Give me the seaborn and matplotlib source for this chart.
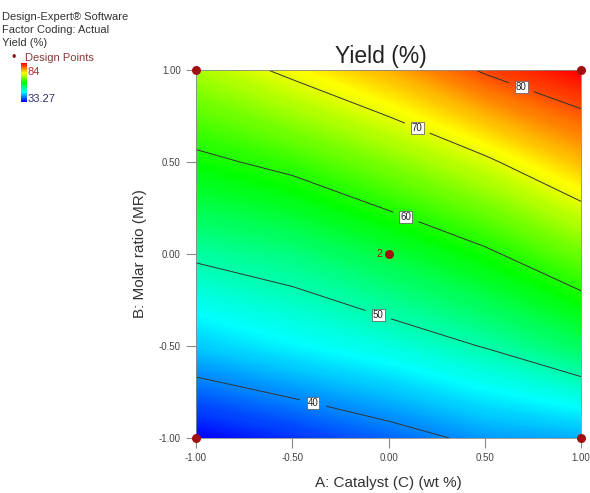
import numpy as np
import matplotlib
matplotlib.use("Agg")
import matplotlib.pyplot as plt
import seaborn as sns
from matplotlib.colors import LinearSegmentedColormap, Normalize

# coded factor levels
catalyst = [-1.0, -0.5, 0.0, 0.5, 1.0]      # A: Catalyst (C) (wt %)
molar_ratio = [-1.0, -0.5, 0.0, 0.5, 1.0]   # B: Molar ratio (MR)

# predicted yield (%), rows = molar ratio
yield_grid = [
    [33.3, 35.7, 38.3, 41.0, 42.0],
    [43.4, 45.6, 47.6, 50.2, 54.0],
    [50.7, 52.4, 55.5, 59.2, 64.0],
    [58.9, 61.3, 65.0, 69.2, 74.5],
    [67.0, 71.0, 75.1, 80.5, 84.0],
]
contour_levels = [40, 50, 60, 70, 80]
yield_min, yield_max = 33.27, 84

# design points (corners + centre point, replicated)
design_a = [-1, 1, -1, 1, 0]
design_b = [-1, -1, 1, 1, 0]

sns.set_style("white")
plt.rcParams['font.family'] = ['Liberation Sans', 'DejaVu Sans']

fig = plt.figure(figsize=(5.9, 4.93), dpi=100)
ax = fig.add_axes([0.332, 0.1116, 0.653, 0.7464])

cmap = LinearSegmentedColormap.from_list(
    "de", ["#0000ff", "#00ffff", "#00ff00", "#ffff00", "#ff0000"])
norm = Normalize(yield_min, yield_max)

A, B = np.meshgrid(catalyst, molar_ratio)
Z = np.array(yield_grid)
ax.contourf(A, B, Z, levels=np.linspace(30, 86, 300), cmap=cmap, norm=norm)
cs = ax.contour(A, B, Z, levels=contour_levels, colors="#333333", linewidths=0.7)
labels = ax.clabel(cs, fmt="%d", fontsize=7, inline=True, inline_spacing=8,
                   manual=[(-0.39, -0.80), (-0.06, -0.35), (0.09, 0.20),
                           (0.14, 0.66), (0.69, 0.91)])
for t in labels:
    t.set_rotation(0)
    t.set_color("#222222")
    t.set_bbox(dict(facecolor="white", edgecolor="#555555", pad=0.8, lw=0.5))

ax.scatter(design_a, design_b, s=30, color="#a01010", zorder=5, clip_on=False)
ax.text(-0.03, 0.0, "2", color="#a01010", fontsize=7.5, ha="right", va="center")

ax.set_xlim(-1, 1)
ax.set_ylim(-1, 1)
ticks = [-1.0, -0.5, 0.0, 0.5, 1.0]
ax.set_xticks(ticks)
ax.set_yticks(ticks)
ax.set_xticklabels([f"{v:.2f}" for v in ticks])
ax.set_yticklabels([f"{v:.2f}" for v in ticks])
ax.tick_params(axis="both", direction="out", length=7, width=0.8,
               color="#888888", labelsize=7, labelcolor="#444444", pad=4,
               bottom=True, left=True)
for sp in ax.spines.values():
    sp.set_color("#888888")
    sp.set_linewidth(0.6)

ax.set_title("Yield (%)", fontsize=16.5, pad=5, color="#222222", x=0.48)
ax.set_xlabel("A: Catalyst (C) (wt %)", fontsize=11, color="#333333", labelpad=9)
ax.set_ylabel("B: Molar ratio (MR)", fontsize=11, color="#333333", labelpad=8)

# Design-Expert style legend block
fig.text(0.004, 0.9655, "Design-Expert\u00ae Software", fontsize=8, color="#333333", va="center")
fig.text(0.004, 0.939, "Factor Coding: Actual", fontsize=8, color="#333333", va="center")
fig.text(0.004, 0.912, "Yield (%)", fontsize=8, color="#333333", va="center")
fig.text(0.024, 0.882, "\u2022", fontsize=9, color="#8b1a1a", va="center", ha="center")
fig.text(0.042, 0.882, "Design Points", fontsize=8, color="#8b3a3a", va="center")
cax = fig.add_axes([0.036, 0.793, 0.009, 0.079])
cax.imshow(np.linspace(1, 0, 50).reshape(-1, 1), cmap=cmap, aspect="auto")
cax.set_axis_off()
fig.text(0.047, 0.854, "84", fontsize=8, color="#b03030", va="center")
fig.text(0.047, 0.799, "33.27", fontsize=8, color="#333366", va="center")

fig.savefig("out.png", dpi=100)
